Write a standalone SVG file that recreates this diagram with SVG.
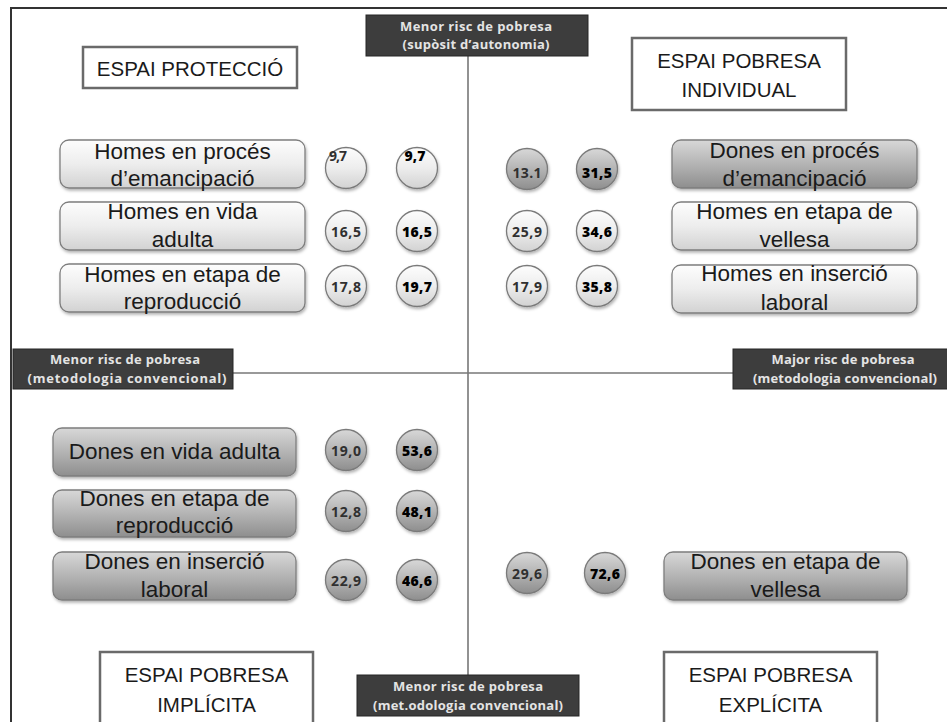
<svg xmlns="http://www.w3.org/2000/svg" width="947" height="722" viewBox="0 0 947 722">
<defs>
<linearGradient id="gLight" x1="0" y1="0" x2="0" y2="1"><stop offset="0" stop-color="#fdfdfd"/><stop offset="0.5" stop-color="#ededed"/><stop offset="1" stop-color="#d2d2d2"/></linearGradient>
<linearGradient id="gDark" x1="0" y1="0" x2="0" y2="1"><stop offset="0" stop-color="#d8d8d8"/><stop offset="0.5" stop-color="#b4b4b4"/><stop offset="1" stop-color="#8e8e8e"/></linearGradient>
<filter id="sh" x="-10%" y="-10%" width="130%" height="140%"><feDropShadow dx="1" dy="2" stdDeviation="1.5" flood-color="#000" flood-opacity="0.3"/></filter>
<style>
.frame{fill:none;stroke:#333;stroke-width:2}
.axis{fill:none;stroke:#777;stroke-width:1.6}
.lab rect{fill:#3d3d3d;stroke:#262626;stroke-width:1}
.lab text{font-family:"Open Sans","Liberation Sans",sans-serif;font-weight:700;font-size:13px;fill:#e4e4e4;text-anchor:middle}
.esp rect{fill:#fff;stroke:#6a6a6a;stroke-width:2.5}
.esp text{font-family:"Liberation Sans","Open Sans",sans-serif;font-size:20.5px;fill:#1a1a1a;text-anchor:middle}
.bx rect{stroke:#7e7e7e;stroke-width:1.3;filter:url(#sh)}
.bx.l rect{fill:url(#gLight)}
.bx.d rect{fill:url(#gDark)}
.bx text{font-family:"Liberation Sans","Open Sans",sans-serif;font-size:22.5px;fill:#1a1a1a;text-anchor:middle}
.c circle{stroke:#7a7a7a;stroke-width:1.3;filter:url(#sh)}
.c.l circle{fill:url(#gLight)}
.c.d circle{fill:url(#gDark)}
.c text{font-family:"Open Sans","Liberation Sans",sans-serif;font-size:14px;fill:#303030;text-anchor:middle;font-weight:700}
.c.b text{font-weight:800;fill:#000}
</style>
</defs>
<rect x="0" y="0" width="947" height="722" fill="#fff"/>
<g id="frame"><path class="frame" d="M11 722 V8 H947"/></g>
<g id="connectors">
<line class="axis" x1="468" y1="56" x2="468" y2="675"/>
<line class="axis" x1="233" y1="373" x2="733" y2="373"/>
</g>
<g id="axis-top" class="lab"><rect x="366" y="15" width="222" height="41"/><text x="476" y="31" textLength="152" lengthAdjust="spacing">Menor risc de pobresa</text><text x="476" y="49" textLength="147" lengthAdjust="spacing">(supòsit d’autonomia)</text></g>
<g id="axis-left" class="lab"><rect x="13" y="349" width="220" height="40"/><text x="125" y="364" textLength="150" lengthAdjust="spacing">Menor risc de pobresa</text><text x="127" y="383" textLength="199" lengthAdjust="spacing">(metodologia convencional)</text></g>
<g id="axis-right" class="lab"><rect x="733" y="349" width="218" height="40"/><text x="843" y="364" textLength="143" lengthAdjust="spacing">Major risc de pobresa</text><text x="845" y="383" textLength="184" lengthAdjust="spacing">(metodologia convencional)</text></g>
<g id="axis-bottom" class="lab"><rect x="357" y="675" width="222" height="41"/><text x="468" y="691" textLength="150" lengthAdjust="spacing">Menor risc de pobresa</text><text x="468" y="710" textLength="190" lengthAdjust="spacing">(met.odologia convencional)</text></g>

<g id="espai-proteccio" class="esp"><rect x="83" y="47" width="214" height="41"/><text x="190" y="76">ESPAI PROTECCIÓ</text></g>
<g id="espai-individual" class="esp"><rect x="632" y="38" width="214" height="72"/><text x="739" y="68">ESPAI POBRESA</text><text x="739" y="97">INDIVIDUAL</text></g>
<g id="espai-implicita" class="esp"><rect x="100" y="652" width="213" height="80"/><text x="206.5" y="682">ESPAI POBRESA</text><text x="206.5" y="712">IMPLÍCITA</text></g>
<g id="espai-explicita" class="esp"><rect x="664" y="652" width="213" height="80"/><text x="770.5" y="682">ESPAI POBRESA</text><text x="770.5" y="712">EXPLÍCITA</text></g>

<g id="homes-emancipacio" class="bx l"><rect x="60" y="140" width="245" height="48" rx="9"/><text x="182.5" y="159">Homes en procés</text><text x="182.5" y="186">d’emancipació</text></g>
<g id="homes-adulta" class="bx l"><rect x="60" y="202" width="245" height="48" rx="9"/><text x="182.5" y="219">Homes en vida</text><text x="182.5" y="247">adulta</text></g>
<g id="homes-reproduccio" class="bx l"><rect x="60" y="264" width="245" height="48" rx="9"/><text x="182.5" y="282">Homes en etapa de</text><text x="182.5" y="309">reproducció</text></g>

<g id="dones-emancipacio" class="bx d"><rect x="672" y="140" width="245" height="48" rx="9"/><text x="794.5" y="158">Dones en procés</text><text x="794.5" y="186">d’emancipació</text></g>
<g id="homes-vellesa" class="bx l"><rect x="672" y="202" width="245" height="48" rx="9"/><text x="794.5" y="219">Homes en etapa de</text><text x="794.5" y="247">vellesa</text></g>
<g id="homes-insercio" class="bx l"><rect x="672" y="265" width="245" height="48" rx="9"/><text x="794.5" y="281">Homes en inserció</text><text x="794.5" y="310">laboral</text></g>

<g id="dones-adulta" class="bx d"><rect x="53" y="428" width="243" height="48" rx="9"/><text x="174.5" y="459">Dones en vida adulta</text></g>
<g id="dones-reproduccio" class="bx d"><rect x="53" y="490" width="243" height="47" rx="9"/><text x="174.5" y="506">Dones en etapa de</text><text x="174.5" y="533">reproducció</text></g>
<g id="dones-insercio" class="bx d"><rect x="53" y="552" width="243" height="48" rx="9"/><text x="174.5" y="569">Dones en inserció</text><text x="174.5" y="597">laboral</text></g>
<g id="dones-vellesa" class="bx d"><rect x="664" y="552" width="243" height="48" rx="9"/><text x="785.5" y="569">Dones en etapa de</text><text x="785.5" y="597">vellesa</text></g>

<g id="v-h-em-1" class="c l"><circle cx="346" cy="168" r="20.5"/><text x="338" y="161" textLength="18" lengthAdjust="spacing">9,7</text></g>
<g id="v-h-em-2" class="c l b"><circle cx="417" cy="168" r="20.5"/><text x="415" y="161" textLength="21" lengthAdjust="spacing">9,7</text></g>
<g id="v-h-ad-1" class="c l"><circle cx="346" cy="231" r="20.5"/><text x="346" y="237" textLength="30" lengthAdjust="spacing">16,5</text></g>
<g id="v-h-ad-2" class="c l b"><circle cx="417" cy="231" r="20.5"/><text x="417" y="237" textLength="30" lengthAdjust="spacing">16,5</text></g>
<g id="v-h-re-1" class="c l"><circle cx="346" cy="286" r="20.5"/><text x="346" y="292" textLength="30" lengthAdjust="spacing">17,8</text></g>
<g id="v-h-re-2" class="c l b"><circle cx="417" cy="286" r="20.5"/><text x="417" y="292" textLength="30" lengthAdjust="spacing">19,7</text></g>

<g id="v-d-em-1" class="c d"><circle cx="527" cy="169" r="20.5"/><text x="527" y="178" textLength="29" lengthAdjust="spacing">13.1</text></g>
<g id="v-d-em-2" class="c d b"><circle cx="597" cy="169" r="20.5"/><text x="597" y="178" textLength="30" lengthAdjust="spacing">31,5</text></g>
<g id="v-h-ve-1" class="c l"><circle cx="527" cy="231" r="20.5"/><text x="527" y="237" textLength="30" lengthAdjust="spacing">25,9</text></g>
<g id="v-h-ve-2" class="c l b"><circle cx="597" cy="231" r="20.5"/><text x="597" y="237" textLength="30" lengthAdjust="spacing">34,6</text></g>
<g id="v-h-in-1" class="c l"><circle cx="527" cy="286" r="20.5"/><text x="527" y="292" textLength="30" lengthAdjust="spacing">17,9</text></g>
<g id="v-h-in-2" class="c l b"><circle cx="597" cy="286" r="20.5"/><text x="597" y="292" textLength="30" lengthAdjust="spacing">35,8</text></g>

<g id="v-d-ad-1" class="c d"><circle cx="346" cy="450" r="20.5"/><text x="346" y="456" textLength="30" lengthAdjust="spacing">19,0</text></g>
<g id="v-d-ad-2" class="c d b"><circle cx="417" cy="450" r="20.5"/><text x="417" y="456" textLength="30" lengthAdjust="spacing">53,6</text></g>
<g id="v-d-re-1" class="c d"><circle cx="346" cy="511" r="20.5"/><text x="346" y="517" textLength="30" lengthAdjust="spacing">12,8</text></g>
<g id="v-d-re-2" class="c d b"><circle cx="417" cy="511" r="20.5"/><text x="417" y="517" textLength="30" lengthAdjust="spacing">48,1</text></g>
<g id="v-d-in-1" class="c d"><circle cx="346" cy="580" r="20.5"/><text x="346" y="586" textLength="30" lengthAdjust="spacing">22,9</text></g>
<g id="v-d-in-2" class="c d b"><circle cx="417" cy="580" r="20.5"/><text x="417" y="586" textLength="30" lengthAdjust="spacing">46,6</text></g>
<g id="v-d-ve-1" class="c d"><circle cx="527" cy="573" r="20.5"/><text x="527" y="579" textLength="30" lengthAdjust="spacing">29,6</text></g>
<g id="v-d-ve-2" class="c d b"><circle cx="605" cy="573" r="20.5"/><text x="605" y="579" textLength="30" lengthAdjust="spacing">72,6</text></g>
</svg>
